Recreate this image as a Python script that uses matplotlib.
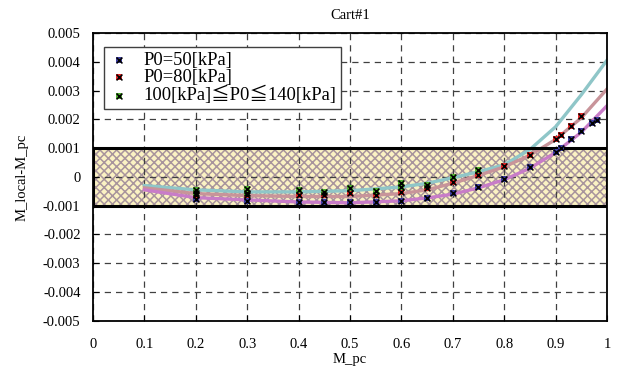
import matplotlib
matplotlib.use("Agg")
import matplotlib.pyplot as plt
from matplotlib.patches import Rectangle
from matplotlib.legend_handler import HandlerTuple
import numpy as np

plt.rcParams['font.family'] = ['Liberation Serif', 'Noto Sans CJK JP', 'DejaVu Sans']
plt.rcParams['hatch.linewidth'] = 1.1

# ------------------------------
# Data (values in units of 1e-3)
# ------------------------------
title = "Cart#1"
labels = ["P0=50[kPa]", "P0=80[kPa]", "100[kPa]≦P0≦140[kPa]"]

x50 = [0.2, 0.3, 0.4, 0.45, 0.5, 0.55, 0.6, 0.65, 0.7, 0.75, 0.8, 0.85,
       0.9, 0.91, 0.93, 0.95, 0.97, 0.98]
y50 = [-0.75, -0.85, -0.87, -0.88, -0.88, -0.87, -0.82, -0.72, -0.55, -0.35,
       -0.07, 0.35, 0.87, 1.0, 1.32, 1.6, 1.88, 1.98]

x80 = [0.2, 0.3, 0.4, 0.45, 0.5, 0.55, 0.6, 0.65, 0.7, 0.75, 0.8, 0.85,
       0.9, 0.91, 0.93, 0.95]
y80 = [-0.62, -0.62, -0.63, -0.62, -0.55, -0.62, -0.52, -0.38, -0.17, 0.07,
       0.38, 0.76, 1.32, 1.46, 1.77, 2.12]

xhi = [0.2, 0.2, 0.3, 0.3, 0.4, 0.45, 0.5, 0.55, 0.6, 0.6, 0.65, 0.7, 0.75]
yhi = [-0.45, -0.55, -0.42, -0.55, -0.45, -0.52, -0.38, -0.5, -0.2, -0.35,
       -0.28, 0.0, 0.24]

# fitted curves
xc = [0.1, 0.2, 0.3, 0.4, 0.5, 0.6, 0.65, 0.7, 0.75, 0.8, 0.85, 0.9, 0.95, 1.0]
cyan_y = [-0.30, -0.45, -0.52, -0.52, -0.48, -0.35, -0.22, -0.03, 0.18, 0.42,
          0.95, 1.74, 2.85, 4.05]
pink_y = [-0.38, -0.58, -0.65, -0.68, -0.68, -0.58, -0.45, -0.22, 0.05, 0.35,
          0.75, 1.30, 2.05, 3.05]
mag_y = [-0.45, -0.72, -0.80, -0.87, -0.90, -0.83, -0.73, -0.60, -0.38, -0.10,
         0.30, 0.85, 1.55, 2.47]

band_lo, band_hi = -0.001, 0.001

fig = plt.figure(figsize=(6.2, 3.74), dpi=100)
ax = fig.add_axes([0.150, 0.142, 0.829, 0.770])

# tolerance band (checkered fill + thick black frame)
ax.add_patch(Rectangle((0, band_lo), 1, band_hi - band_lo, facecolor='#fbf2c3',
                       edgecolor='#a8949c', hatch='xxxx', lw=0, zorder=1))
ax.add_patch(Rectangle((0, band_lo), 1, band_hi - band_lo, facecolor='none',
                       edgecolor='black', lw=2.2, zorder=4))

s = 1e-3
ax.plot(xc, np.array(cyan_y) * s, color='#8fc6c8', lw=2.4, zorder=3)
ax.plot(xc, np.array(pink_y) * s, color='#c8949a', lw=2.4, zorder=3)
ax.plot(xc, np.array(mag_y) * s, color='#c87cc8', lw=2.4, zorder=3)

handles = []
for xs, ys, col in [(x50, y50, '#3c3ca0'), (x80, y80, '#e02828'), (xhi, yhi, '#50b030')]:
    sq = ax.scatter(xs, np.array(ys) * s, marker='s', s=24, color=col, zorder=5, lw=0)
    cr = ax.scatter(xs, np.array(ys) * s, marker='x', s=18, color='black', lw=1.1, zorder=6)
    handles.append((sq, cr))

ax.set_xlim(0, 1)
ax.set_ylim(-0.005, 0.005)
ax.set_xticks(np.arange(0, 1.01, 0.1))
ax.set_xticklabels(['0', '0.1', '0.2', '0.3', '0.4', '0.5', '0.6', '0.7', '0.8', '0.9', '1'])
yt = np.arange(-5, 6) * 1e-3
ax.set_yticks(yt)
ax.set_yticklabels(['0' if v == 0 else f"{v * 1e-3:.3f}" for v in range(-5, 6)])
ax.tick_params(direction='in', labelsize=10.5, length=4)
ax.tick_params(axis='x', pad=12)
ax.tick_params(axis='y', pad=9)
ax.grid(True, color='#404040', ls=(0, (5, 4)), lw=0.9, zorder=2)
ax.set_axisbelow(False)
for sp in ax.spines.values():
    sp.set_linewidth(1.3)
    sp.set_zorder(7)

ax.set_xlabel('M_pc', fontsize=10.5, labelpad=2)
ax.set_ylabel('M_local-M_pc', fontsize=10.5, labelpad=10)
ax.set_title(title, fontsize=10.5, pad=10)

leg = ax.legend(handles, labels, handler_map={tuple: HandlerTuple(ndivide=1)},
                loc='upper left', bbox_to_anchor=(0.0, 0.988), fontsize=13.3,
                frameon=True, fancybox=False, edgecolor='#404040', framealpha=1,
                handlelength=1.1, handletextpad=0.8, labelspacing=0.0,
                borderpad=0.25, borderaxespad=0.6)
leg.get_frame().set_linewidth(1.0)
leg.set_zorder(10)

fig.savefig('out.png', dpi=100)
